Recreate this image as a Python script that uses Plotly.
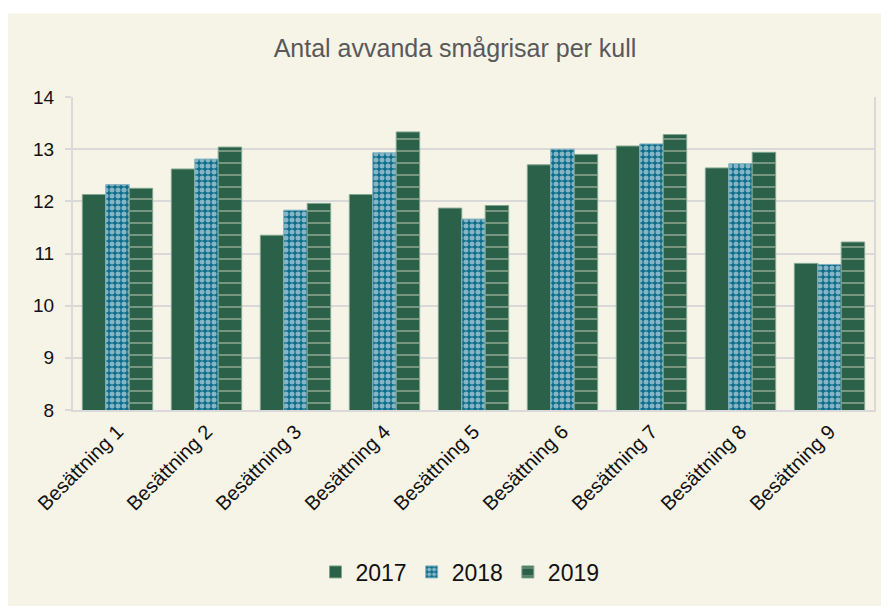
import plotly.graph_objects as go

categories = ["Besättning 1", "Besättning 2", "Besättning 3", "Besättning 4", "Besättning 5",
              "Besättning 6", "Besättning 7", "Besättning 8", "Besättning 9"]
v2017 = [12.13, 12.62, 11.35, 12.13, 11.87, 12.70, 13.06, 12.64, 10.81]
v2018 = [12.32, 12.81, 11.83, 12.93, 11.66, 13.00, 13.10, 12.72, 10.79]
v2019 = [12.25, 13.04, 11.96, 13.33, 11.92, 12.90, 13.28, 12.94, 11.22]
y_ticks = [8, 9, 10, 11, 12, 13, 14]

GREEN = "#2c6149"
TEAL = "#0d6d8a"
CREAM = "#f6f3e7"
FONT = "Liberation Sans, Arial, sans-serif"

W, H = 881, 598
L, R, T, B = 65, 15, 89, 194
plot_h = H - T - B
plot_w = W - L - R

fig = go.Figure()
fig.add_trace(go.Bar(name="2017", x=categories, y=v2017,
                     marker=dict(color=GREEN, line=dict(color="#7fa591", width=1))))
fig.add_trace(go.Bar(name="2018", x=categories, y=v2018,
                     marker=dict(color=TEAL, line=dict(color="#7fb0c0", width=1),
                                 pattern=dict(shape=".", fgcolor="#ffffff", bgcolor=TEAL,
                                              size=6, solidity=0.55))))
fig.add_trace(go.Bar(name="2019", x=categories, y=v2019,
                     marker=dict(color=GREEN, line=dict(color="#7fa591", width=1),
                                 pattern=dict(shape="-", fgcolor="#e8e6d6", bgcolor=GREEN,
                                              size=12, solidity=0.12, fgopacity=0.55))))

fig.add_shape(type="rect", xref="paper", yref="paper", x0=-0.2, x1=1.2,
              y0=-1, y1=(plot_h + T - 5) / plot_h,
              layer="below", line=dict(width=0), fillcolor=CREAM)

fig.update_layout(
    width=W, height=H,
    paper_bgcolor="#ffffff",
    plot_bgcolor=CREAM,
    margin=dict(l=L, r=R, t=T, b=B, pad=0),
    barmode="group", bargap=0.21, bargroupgap=0,
    title=dict(text="Antal avvanda smågrisar per kull", x=(455 - 8) / W, xanchor="center",
               y=1 - 40 / H, yanchor="middle",
               font=dict(family=FONT, size=25, color="#595959")),
    font=dict(family=FONT, color="#222222"),
    legend=dict(orientation="h", x=(460 - 8 - L) / plot_w,
                xanchor="center", y=(T + plot_h - 567) / plot_h, yanchor="middle",
                font=dict(size=23, color="#111111"),
                bgcolor="rgba(0,0,0,0)"),
    xaxis=dict(tickangle=-45, tickfont=dict(size=20, color="#111111"),
               showline=True, linecolor="#d9d9d9", linewidth=2, mirror=False,
               showgrid=False, ticks=""),
    yaxis=dict(range=[8, 14], tickvals=y_ticks, tickfont=dict(size=19, color="#111111"),
               showgrid=True, gridcolor="#d9d9d9", gridwidth=2,
               showline=True, linecolor="#d9d9d9", linewidth=2, mirror=True,
               ticks="outside", ticklen=6, tickcolor="#d9d9d9", tickwidth=2,
               ticklabelstandoff=7, zeroline=False),
)

fig.write_html("out.html")
